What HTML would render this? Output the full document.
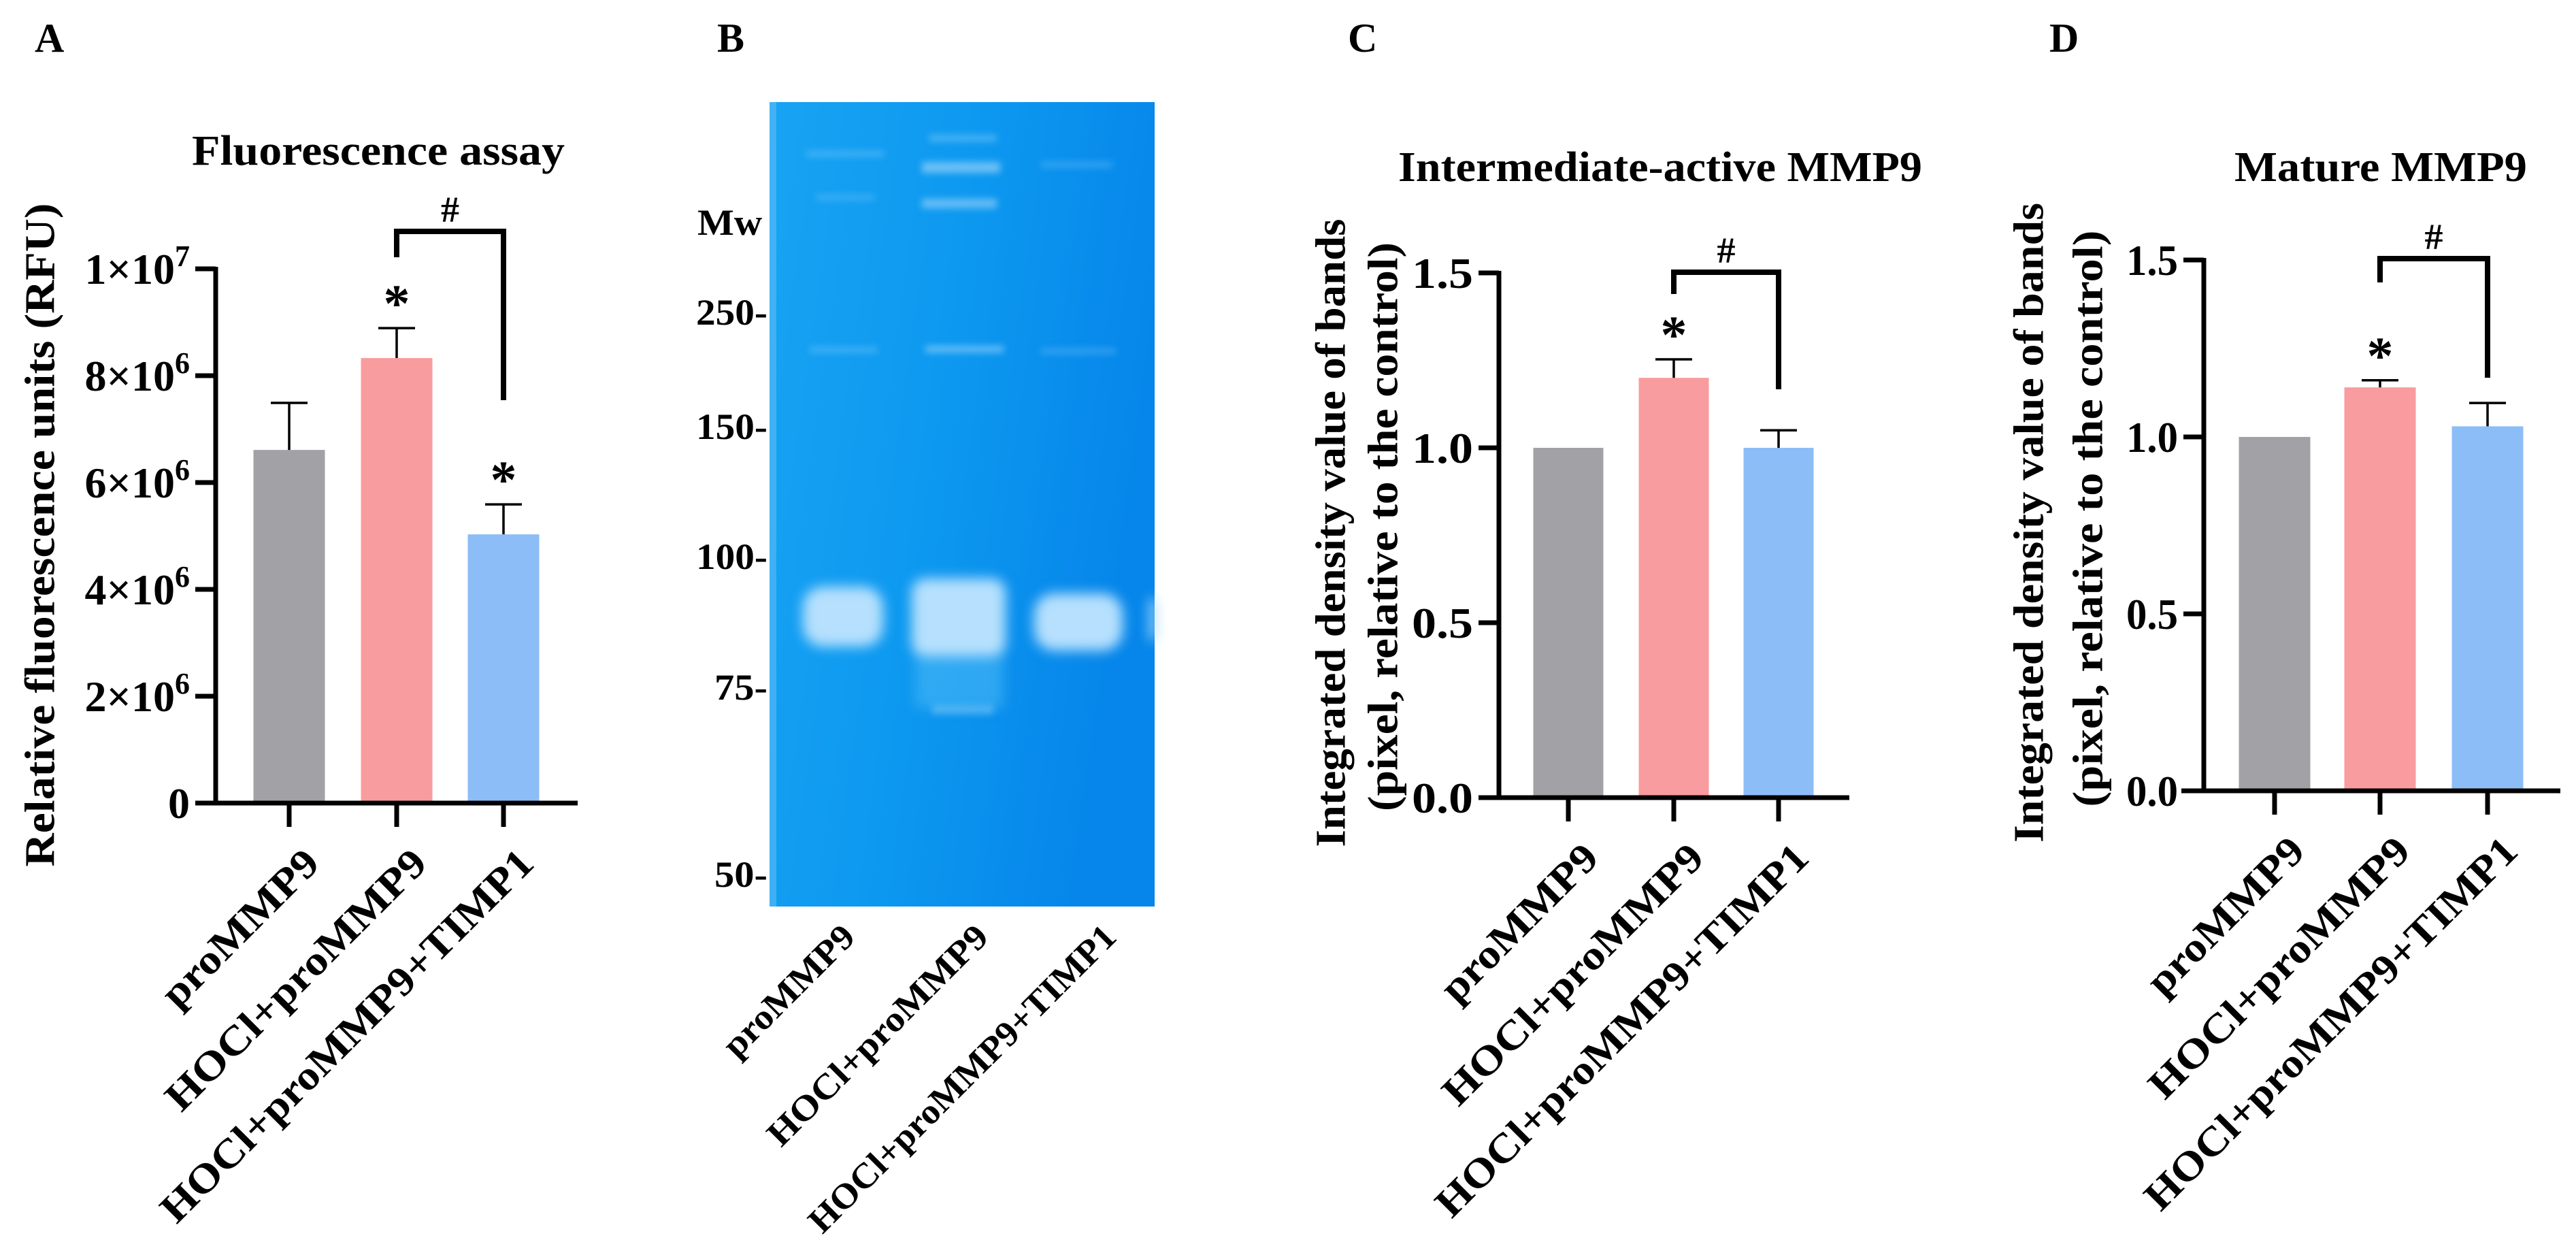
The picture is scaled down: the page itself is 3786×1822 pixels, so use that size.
<!DOCTYPE html>
<html><head><meta charset="utf-8"><style>
html,body{margin:0;padding:0;background:#fff;}
svg{display:block;font-family:"Liberation Serif",serif;font-weight:bold;}
</style></head><body>
<svg id="fig" width="3786" height="1822" viewBox="0 0 3786 1822" xmlns="http://www.w3.org/2000/svg">
<defs>
<linearGradient id="gelg" x1="0" y1="0" x2="1" y2="0.3">
<stop offset="0" stop-color="#19a3f3"/><stop offset="0.5" stop-color="#0d99f0"/><stop offset="1" stop-color="#0686ea"/>
</linearGradient>
<filter id="blur8" x="-30%" y="-60%" width="160%" height="220%"><feGaussianBlur stdDeviation="9"/></filter>
<filter id="blur4" x="-30%" y="-200%" width="160%" height="500%"><feGaussianBlur stdDeviation="5"/></filter>
</defs>
<g id="panels"></g>
<g id="gel">
<text x="1054" y="76" font-size="60">B</text>
<rect x="1131" y="150" width="566" height="1182" fill="url(#gelg)"/>
<rect x="1131" y="150" width="10" height="1182" fill="#5cbcf7" opacity="0.6"/>
<g filter="url(#blur4)" fill="#9fd6fb">
<rect x="1185" y="222" width="115" height="8" opacity="0.35"/>
<rect x="1200" y="286" width="85" height="8" opacity="0.3"/>
<rect x="1190" y="510" width="100" height="8" opacity="0.35"/>
<rect x="1365" y="198" width="100" height="10" opacity="0.4"/>
<rect x="1355" y="238" width="115" height="16" opacity="0.65"/>
<rect x="1355" y="292" width="110" height="14" opacity="0.6"/>
<rect x="1360" y="508" width="115" height="10" opacity="0.6"/>
<rect x="1370" y="1035" width="90" height="14" opacity="0.45"/>
<rect x="1530" y="238" width="105" height="8" opacity="0.3"/>
<rect x="1530" y="512" width="110" height="8" opacity="0.3"/>
</g>
<rect x="1345" y="960" width="130" height="80" fill="#55bdf7" opacity="0.5" filter="url(#blur8)"/>
<g filter="url(#blur8)" fill="#b6e0fd">
<rect x="1180" y="862" width="118" height="88" rx="30"/>
<rect x="1340" y="850" width="138" height="115" rx="20"/>
<rect x="1520" y="872" width="130" height="84" rx="30"/>
<rect x="1690" y="880" width="10" height="60"/>
</g>
<g font-size="54" text-anchor="end">
<text x="1120" y="345" textLength="95" lengthAdjust="spacingAndGlyphs">Mw</text>
<text x="1128" y="477" textLength="105" lengthAdjust="spacingAndGlyphs">250-</text>
<text x="1128" y="645" textLength="105" lengthAdjust="spacingAndGlyphs">150-</text>
<text x="1128" y="836" textLength="105" lengthAdjust="spacingAndGlyphs">100-</text>
<text x="1128" y="1028" textLength="78" lengthAdjust="spacingAndGlyphs">75-</text>
<text x="1128" y="1303" textLength="78" lengthAdjust="spacingAndGlyphs">50-</text>
</g>
<g font-size="52" text-anchor="end">
<text transform="translate(1232,1352) rotate(-45)" dy="0.75em" textLength="250" lengthAdjust="spacingAndGlyphs">proMMP9</text>
<text transform="translate(1428,1352) rotate(-45)" dy="0.75em" textLength="435" lengthAdjust="spacingAndGlyphs">HOCl+proMMP9</text>
<text transform="translate(1616,1352) rotate(-45)" dy="0.75em" textLength="615" lengthAdjust="spacingAndGlyphs">HOCl+proMMP9+TIMP1</text>
</g>
</g>
</svg>
<script>
const categories = ['proMMP9', 'HOCl+proMMP9', 'HOCl+proMMP9+TIMP1'];
const fluorMeans = [6.61e6, 8.33e6, 5.03e6];
const fluorErrs = [0.88e6, 0.56e6, 0.56e6];
const fluorTicks = [0, 2e6, 4e6, 6e6, 8e6, 1e7];
const fluorTickLabels = ['0', '2×10|6', '4×10|6', '6×10|6', '8×10|6', '1×10|7'];
const interMeans = [1.0, 1.20, 1.0];
const interErrs = [0, 0.053, 0.05];
const matureMeans = [1.0, 1.14, 1.03];
const matureErrs = [0, 0.02, 0.066];
const ratioTicks = [0, 0.5, 1.0, 1.5];
const ratioTickLabels = ['0.0', '0.5', '1.0', '1.5'];
const fluorStars = [1, 2];
const interStars = [1];
const matureStars = [1];

const NS = 'http://www.w3.org/2000/svg';
const colors = ['#a1a1a6', '#f99c9f', '#8dbdf6'];
const root = document.getElementById('panels');
function mk(tag, attrs, parent) {
  const e = document.createElementNS(NS, tag);
  for (const k in attrs) e.setAttribute(k, attrs[k]);
  (parent || root).appendChild(e);
  return e;
}
function panel(cfg, means, errs, ticks, tickLabels, stars) {
  const g = mk('g', {});
  
  
  const ys = v => cfg.y0 - v / cfg.vmax * (cfg.y0 - cfg.yTop);
  const lab = mk('text', {x: cfg.letterX, y: 76, 'font-size': 60}, g);
  lab.textContent = cfg.letter;
  
  
  const t = mk('text', {x: cfg.titleX, y: cfg.titleY, 'font-size': 62, 'text-anchor': 'middle', textLength: cfg.titleW, lengthAdjust: 'spacingAndGlyphs'}, g);
  t.textContent = cfg.title;
  
  
  cfg.yTitle.forEach((line, i) => {
    const yt = mk('text', {transform: 'translate(' + line.x + ',' + line.cy + ') rotate(-90)', 'font-size': 62, 'text-anchor': 'middle', dy: '0.35em', textLength: line.len, lengthAdjust: 'spacingAndGlyphs'}, g);
    yt.textContent = line.text;
    
    
  });
  means.forEach((m, i) => {
    const x = cfg.xs[i];
    const b = mk('rect', {x: x - cfg.barW / 2, y: ys(m), width: cfg.barW, height: cfg.y0 - ys(m), fill: colors[i]}, g);
    
    
    if (errs[i] > 0) {
      const eg = mk('g', {stroke: '#000', 'stroke-width': 3.5}, g);
      
      
      mk('line', {x1: x, x2: x, y1: ys(m), y2: ys(m + errs[i])}, eg);
      mk('line', {x1: x - 27, x2: x + 27, y1: ys(m + errs[i]), y2: ys(m + errs[i])}, eg);
    }
    mk('line', {x1: x, x2: x, y1: cfg.y0, y2: cfg.y0 + 35, stroke: '#000', 'stroke-width': 7}, g);
    const cl = mk('text', {transform: 'translate(' + (x + 18) + ',' + (cfg.y0 + 62) + ') rotate(-45)', 'font-size': 60, 'text-anchor': 'end', dy: '0.7em', textLength: cfg.catLen[i], lengthAdjust: 'spacingAndGlyphs'}, g);
    cl.textContent = categories[i];
    
    
  });
  stars.forEach(i => {
    const s = mk('text', {x: cfg.xs[i], y: ys(means[i] + errs[i]) - 10, 'font-size': 78, 'text-anchor': 'middle'}, g);
    s.textContent = '*';
    
    
  });
  const br = mk('path', {d: 'M' + cfg.xs[1] + ' ' + cfg.brL + ' V' + cfg.brTop + ' H' + cfg.xs[2] + ' V' + cfg.brR, fill: 'none', stroke: '#000', 'stroke-width': 8}, g);
  
  
  const h = mk('text', {x: (cfg.xs[1] + cfg.xs[2]) / 2, y: cfg.brTop - 14, 'font-size': 54, 'text-anchor': 'middle'}, g);
  h.textContent = '#';
  
  
  const ya = mk('line', {x1: cfg.x0, x2: cfg.x0, y1: cfg.yTop - 3, y2: cfg.y0 + 3, stroke: '#000', 'stroke-width': 7}, g);
  
  
  const xa = mk('line', {x1: cfg.xL, x2: cfg.xR, y1: cfg.y0, y2: cfg.y0, stroke: '#000', 'stroke-width': 7}, g);
  
  
  ticks.forEach((v, i) => {
    const y = ys(v);
    mk('line', {x1: cfg.x0 - 30, x2: cfg.x0, y1: y, y2: y, stroke: '#000', 'stroke-width': 7}, g);
    const parts = tickLabels[i].split('|');
    const tl = mk('text', {x: cfg.x0 - 38, y: y + 22, 'font-size': 64, 'text-anchor': 'end'}, g);
    
    
    tl.appendChild(document.createTextNode(parts[0]));
    if (parts[1]) {
      const sp = mk('tspan', {'font-size': 44, dy: -26}, tl);
      sp.textContent = parts[1];
    } else if (cfg.tickLen) {
      tl.setAttribute('textLength', cfg.tickLen);
      tl.setAttribute('lengthAdjust', 'spacingAndGlyphs');
    }
  });
}
panel({name: 'fluorescence-chart', letter: 'A', letterX: 51, title: 'Fluorescence assay', titleX: 556, titleY: 242, titleW: 548,
  yTitle: [{text: 'Relative fluorescence units (RFU)', x: 58, cy: 786, len: 975}],
  x0: 317, y0: 1180, yTop: 395, vmax: 1e7, xs: [425, 583, 740], barW: 105, xL: 288, xR: 849,
  catLen: [300, 515, 747], brTop: 340, brL: 378, brR: 588},
  fluorMeans, fluorErrs, fluorTicks, fluorTickLabels, fluorStars);
panel({name: 'intermediate-mmp9-chart', letter: 'C', letterX: 1981, title: 'Intermediate-active MMP9', titleX: 2440, titleY: 266, titleW: 770,
  yTitle: [{text: 'Integrated density value of bands', x: 1955, cy: 783, len: 923}, {text: '(pixel, relative to the control)', x: 2032, cy: 774, len: 836}],
  x0: 2203, y0: 1172, yTop: 401, vmax: 1.5, xs: [2305, 2460, 2614], barW: 103, xL: 2173, xR: 2718,
  catLen: [300, 515, 747], brTop: 400, brL: 432, brR: 572, tickLen: 90},
  interMeans, interErrs, ratioTicks, ratioTickLabels, interStars);
panel({name: 'mature-mmp9-chart', letter: 'D', letterX: 3012, title: 'Mature MMP9', titleX: 3499, titleY: 266, titleW: 430,
  yTitle: [{text: 'Integrated density value of bands', x: 2981, cy: 768, len: 940}, {text: '(pixel, relative to the control)', x: 3068, cy: 762, len: 847}],
  x0: 3239, y0: 1162, yTop: 382, vmax: 1.5, xs: [3343, 3498, 3656], barW: 105, xL: 3206, xR: 3763,
  catLen: [300, 515, 747], brTop: 380, brL: 415, brR: 555, tickLen: 76},
  matureMeans, matureErrs, ratioTicks, ratioTickLabels, matureStars);
</script>
</body></html>
